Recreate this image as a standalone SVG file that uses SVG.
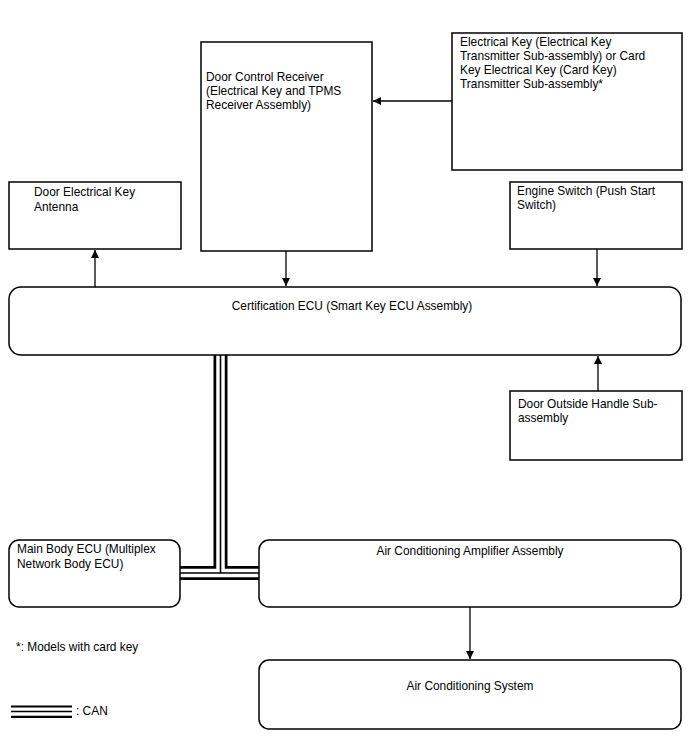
<svg xmlns="http://www.w3.org/2000/svg" width="688" height="755" viewBox="0 0 688 755">
<defs>
<style>
.box{fill:#fff;stroke:#000;stroke-width:1.5}
.t{font-family:"Liberation Sans",Arial,sans-serif;font-size:11.9px;fill:#000}
.c{text-anchor:middle}
.ln{stroke:#000;stroke-width:1.3;fill:none}
.canA{stroke:#000;stroke-width:14;fill:none}
.canB{stroke:#fff;stroke-width:8.5;fill:none}
.canC{stroke:#000;stroke-width:1.6;fill:none}
</style>
<marker id="ah" viewBox="0 0 10 10" refX="10" refY="5" markerWidth="8" markerHeight="8" markerUnits="userSpaceOnUse" orient="auto">
<path d="M0,0 L10,5 L0,10 z" fill="#000"/>
</marker>
</defs>
<rect width="688" height="755" fill="#fff"/>
<g id="connectors">
<line class="ln" x1="452" y1="101" x2="373" y2="101" marker-end="url(#ah)"/>
<line class="ln" x1="95" y1="287" x2="95" y2="250" marker-end="url(#ah)"/>
<line class="ln" x1="286" y1="251" x2="286" y2="286" marker-end="url(#ah)"/>
<line class="ln" x1="597" y1="249" x2="597" y2="286" marker-end="url(#ah)"/>
<line class="ln" x1="598" y1="391" x2="598" y2="356" marker-end="url(#ah)"/>
<line class="ln" x1="470" y1="607" x2="470" y2="659" marker-end="url(#ah)"/>
<path class="canA" d="M220.5,355 V573 M180,573 H259"/>
<path class="canB" d="M220.5,355 V573 M180,573 H259"/>
<path class="canC" d="M220.5,355 V573 M180,573 H259"/>
</g>
<g id="door-control-receiver">
<rect class="box" x="201" y="42" width="171" height="209"/>
<text class="t" x="206" y="81">Door Control Receiver</text>
<text class="t" x="206" y="95">(Electrical Key and TPMS</text>
<text class="t" x="206" y="109">Receiver Assembly)</text>
</g>
<g id="electrical-key">
<rect class="box" x="452" y="33" width="230" height="137"/>
<text class="t" x="460" y="46">Electrical Key (Electrical Key</text>
<text class="t" x="460" y="60">Transmitter Sub-assembly) or Card</text>
<text class="t" x="460" y="74">Key Electrical Key (Card Key)</text>
<text class="t" x="460" y="88">Transmitter Sub-assembly*</text>
</g>
<g id="door-electrical-key-antenna">
<rect class="box" x="9" y="182" width="172" height="67"/>
<text class="t" x="34" y="196">Door Electrical Key</text>
<text class="t" x="34" y="211">Antenna</text>
</g>
<g id="engine-switch">
<rect class="box" x="510" y="182" width="172" height="67"/>
<text class="t" x="517" y="195">Engine Switch (Push Start</text>
<text class="t" x="517" y="209">Switch)</text>
</g>
<g id="certification-ecu">
<rect class="box" x="9" y="287" width="672" height="68" rx="12"/>
<text class="t c" x="352" y="310">Certification ECU (Smart Key ECU Assembly)</text>
</g>
<g id="door-outside-handle">
<rect class="box" x="510" y="391" width="172" height="69"/>
<text class="t" x="518" y="408">Door Outside Handle Sub-</text>
<text class="t" x="518" y="422">assembly</text>
</g>
<g id="main-body-ecu">
<rect class="box" x="9" y="540" width="171" height="67" rx="10"/>
<text class="t" x="17" y="553">Main Body ECU (Multiplex</text>
<text class="t" x="17" y="568">Network Body ECU)</text>
</g>
<g id="ac-amplifier">
<rect class="box" x="259" y="540" width="422" height="67" rx="10"/>
<text class="t c" x="470" y="555">Air Conditioning Amplifier Assembly</text>
</g>
<g id="ac-system">
<rect class="box" x="259" y="660" width="422" height="69" rx="10"/>
<text class="t c" x="470" y="690">Air Conditioning System</text>
</g>
<g id="notes">
<text class="t" x="16" y="651">*: Models with card key</text>
<line x1="11" y1="706.5" x2="72" y2="706.5" stroke="#000" stroke-width="2"/>
<line x1="11" y1="711.5" x2="72" y2="711.5" stroke="#000" stroke-width="1.5"/>
<line x1="11" y1="716.8" x2="72" y2="716.8" stroke="#000" stroke-width="2.3"/>
<text class="t" x="76" y="715">: CAN</text>
</g>
</svg>
